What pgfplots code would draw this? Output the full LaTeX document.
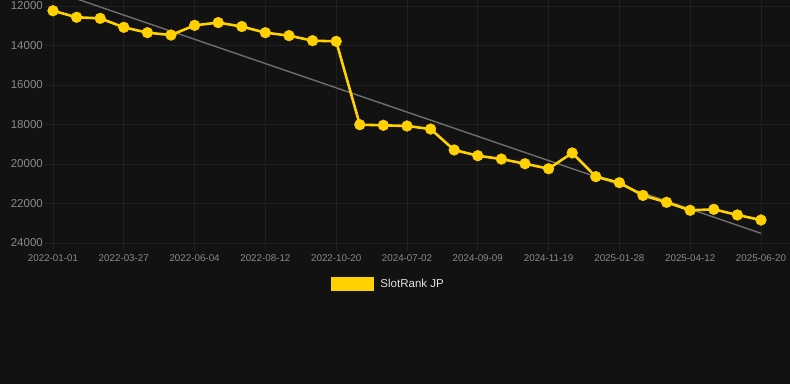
\documentclass[border=0pt]{standalone}
\usepackage{pgfplots}
\pgfplotsset{compat=1.18}
\usepackage{fontspec}
\setmainfont{Liberation Sans}
\definecolor{bg}{HTML}{121212}
\definecolor{gridc}{HTML}{202020}
\definecolor{tickc}{HTML}{8A8A8A}
\definecolor{gold}{HTML}{FFD100}
\definecolor{trend}{HTML}{6E6E6E}
\definecolor{legtext}{HTML}{E0E0E0}
\begin{document}
\begin{tikzpicture}[x=1pt,y=1pt]
\fill[bg] (0,0) rectangle (790,384);
\path[use as bounding box] (0,0) rectangle (790,384);
\begin{axis}[
  at={(53pt,141pt)}, anchor=south west,
  scale only axis, width=737pt, height=237pt,
  xmin=0, xmax=31.23,
  ymin=12000, ymax=24000, y dir=reverse,
  ytick={12000,14000,16000,18000,20000,22000,24000},
  xtick={0,3,6,9,12,15,18,21,24,27,30},
  xticklabels={2022-01-01,2022-03-27,2022-06-04,2022-08-12,2022-10-20,2024-07-02,2024-09-09,2024-11-19,2025-01-28,2025-04-12,2025-06-20},
  scaled y ticks=false,
  yticklabel={\pgfmathprintnumber[fixed,1000 sep={}]{\tick}},
  /pgf/number format/assume math mode=true,
  grid=major, major grid style={gridc, line width=0.7pt},
  axis line style={draw=none},
  tick align=outside, major tick length=8pt,
  tick style={gridc, line width=0.7pt},
  yticklabel style={font=\fontsize{11.5}{12}\selectfont, text=tickc, anchor=east, inner sep=0pt, xshift=-2pt},
  xticklabel style={font=\fontsize{9.8}{11}\selectfont, text=tickc, anchor=north, inner sep=0pt, yshift=-3pt},
  clip=false,
  legend style={at={(0.455,-0.173)}, anchor=center, draw=none, fill=none, text=legtext, font=\fontsize{11.5}{13}\selectfont, inner sep=0pt},
  legend cell align=left,
]
\addplot[trend, line width=1.4pt, forget plot] coordinates {(0,11230) (30,23510)};
\addplot[gold, line width=2.6pt, mark=*, mark size=5.4pt, mark options={fill=gold, draw=gold, line width=0.4pt, solid},
  legend image code/.code={\fill[gold] (0pt,-5.5pt) rectangle (41pt,5.5pt);}]
coordinates {
(0,12240) (1,12570) (2,12625) (3,13080) (4,13350) (5,13470) (6,12980) (7,12840) (8,13040) (9,13350)
(10,13500) (11,13755) (12,13790) (13,18010) (14,18040) (15,18075) (16,18230) (17,19290) (18,19580) (19,19750)
(20,19985) (21,20240) (22,19440) (23,20640) (24,20945) (25,21590) (26,21940) (27,22345) (28,22295) (29,22580)
(30,22835)
};
\addlegendentry{\hspace{4pt}SlotRank JP}
\end{axis}
\end{tikzpicture}
\end{document}
